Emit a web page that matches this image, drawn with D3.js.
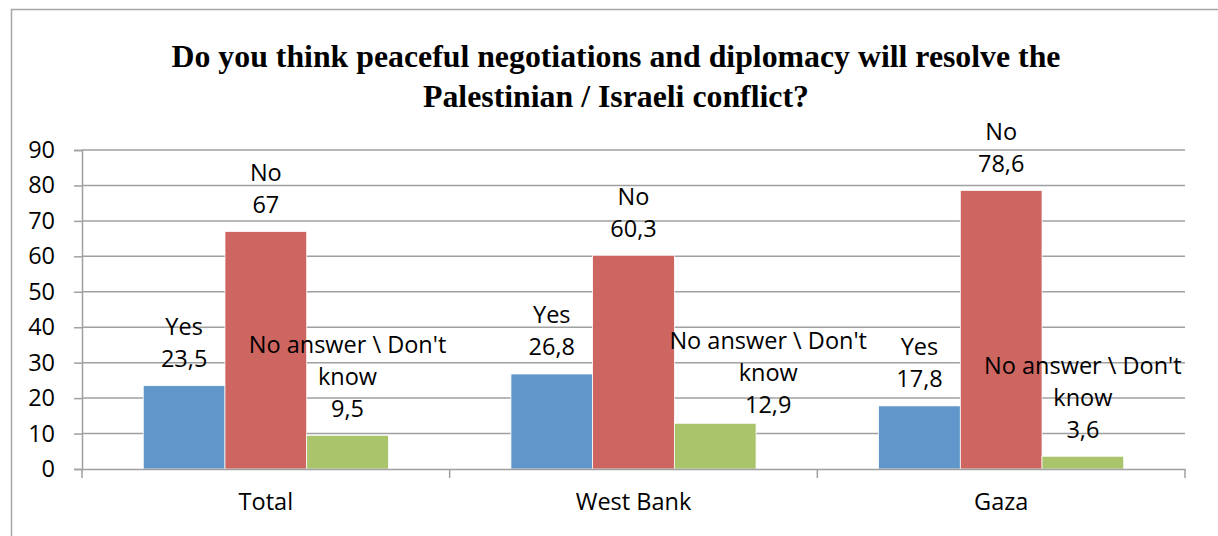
<!DOCTYPE html>
<html>
<head>
<meta charset="utf-8">
<script src="https://cdn.jsdelivr.net/npm/d3@7"></script>
<style>
  body { margin: 0; background: #fff; }
  text { font-family: "Open Sans", sans-serif; fill: #000; }
</style>
</head>
<body>
<script>
// chart data
var categories = ["Total", "West Bank", "Gaza"];
var seriesNames = ["Yes", "No", "No answer \\ Don't know"];
var labelLines = [["Yes"], ["No"], ["No answer \\ Don't", "know"]];
var yesValues = [23.5, 26.8, 17.8];
var noValues = [67, 60.3, 78.6];
var dkValues = [9.5, 12.9, 3.6];
var yTicks = [0, 10, 20, 30, 40, 50, 60, 70, 80, 90];
var colors = ["#6096c9", "#cd6560", "#aac46c"];
var titleLines = ["Do you think peaceful negotiations and diplomacy will resolve the",
                  "Palestinian / Israeli conflict?"];

// one label was dragged by hand in the original chart
var labelNudge = { "West Bank|2": [53, 8] };

var W = 1218, H = 536;
var svg = d3.select("body").append("svg")
    .attr("width", W)
    .attr("height", H);

// outer frame (only top and left visible)
svg.append("path")
    .attr("d", "M11.5,536V9.5H1218")
    .attr("fill", "none")
    .attr("stroke", "#a6a6a6")
    .attr("stroke-width", 1.5);

// title
svg.append("g").selectAll("text")
    .data(titleLines)
    .enter().append("text")
    .attr("x", 616)
    .attr("y", function (d, i) { return 67 + i * 40; })
    .attr("text-anchor", "middle")
    .style("font-family", "'Liberation Serif', serif")
    .style("font-weight", "bold")
    .style("font-size", "31.8px")
    .text(function (d) { return d; });

var plotLeft = 82, plotRight = 1185, plotTop = 150, plotBottom = 469;

var y = d3.scaleLinear().domain([0, 90]).range([plotBottom, plotTop]);
var x0 = d3.scaleBand().domain(categories).range([plotLeft, plotRight]);
var cw = x0.bandwidth();
var x1 = d3.scaleBand().domain(d3.range(3)).range([cw / 6, cw * 5 / 6]);

// gridlines
svg.append("g").selectAll("line")
    .data(yTicks.slice(1))
    .enter().append("line")
    .attr("x1", plotLeft).attr("x2", plotRight)
    .attr("y1", function (d) { return y(d); })
    .attr("y2", function (d) { return y(d); })
    .attr("stroke", "#a0a0a0")
    .attr("stroke-width", 1.5);

// y axis
var yAxis = d3.axisLeft(y).tickValues(yTicks).tickSize(8).tickPadding(19);
var gy = svg.append("g").attr("transform", "translate(" + plotLeft + ",0)").call(yAxis);
gy.select(".domain").attr("stroke", "#a0a0a0").attr("stroke-width", 1.5);
gy.selectAll(".tick line").attr("stroke", "#a0a0a0").attr("stroke-width", 1.5);
gy.selectAll(".tick text")
    .style("font-family", "'Open Sans', sans-serif")
    .style("font-size", "23.5px")
    .attr("fill", "#000");

// bars
var rows = categories.map(function (c, i) {
    return [yesValues[i], noValues[i], dkValues[i]];
});

var groups = svg.append("g").selectAll("g")
    .data(rows)
    .enter().append("g")
    .attr("transform", function (d, i) { return "translate(" + x0(categories[i]) + ",0)"; });

groups.selectAll("rect")
    .data(function (d) { return d; })
    .enter().append("rect")
    .attr("x", function (d, j) { return x1(j); })
    .attr("width", x1.bandwidth())
    .attr("y", function (d) { return y(d); })
    .attr("height", function (d) { return y(0) - y(d); })
    .attr("fill", function (d, j) { return colors[j]; })
    .attr("stroke", "#fff")
    .attr("stroke-width", 0.75);

// x axis
var xAxis = d3.axisBottom(x0).tickSize(0).tickPadding(24);
var gx = svg.append("g").attr("transform", "translate(0," + plotBottom + ")").call(xAxis);
gx.select(".domain").attr("stroke", "#a0a0a0").attr("stroke-width", 1.5);
gx.selectAll(".tick text")
    .style("font-family", "'Open Sans', sans-serif")
    .style("font-size", "23.5px")
    .attr("fill", "#000");
// category separators
gx.selectAll(".sep")
    .data(categories.concat([null]))
    .enter().append("line")
    .attr("x1", function (d, i) { return plotLeft + i * cw; })
    .attr("x2", function (d, i) { return plotLeft + i * cw; })
    .attr("y1", 0).attr("y2", 9)
    .attr("stroke", "#a0a0a0")
    .attr("stroke-width", 1.5);

// data labels
groups.each(function (row, i) {
    var g = d3.select(this);
    row.forEach(function (v, j) {
        var lines = labelLines[j].concat([String(v).replace(".", ",")]);
        var nudge = labelNudge[categories[i] + "|" + j] || [0, 0];
        var cx = x1(j) + x1.bandwidth() / 2 + nudge[0];
        var n = lines.length;
        g.append("g").selectAll("text")
            .data(lines)
            .enter().append("text")
            .attr("x", cx)
            .attr("y", function (d, k) { return y(v) - 27 + nudge[1] - (n - 1 - k) * 32; })
            .attr("dy", "0.36em")
            .attr("text-anchor", "middle")
            .style("font-size", "23.5px")
            .text(function (d) { return d; });
    });
});
</script>
</body>
</html>
